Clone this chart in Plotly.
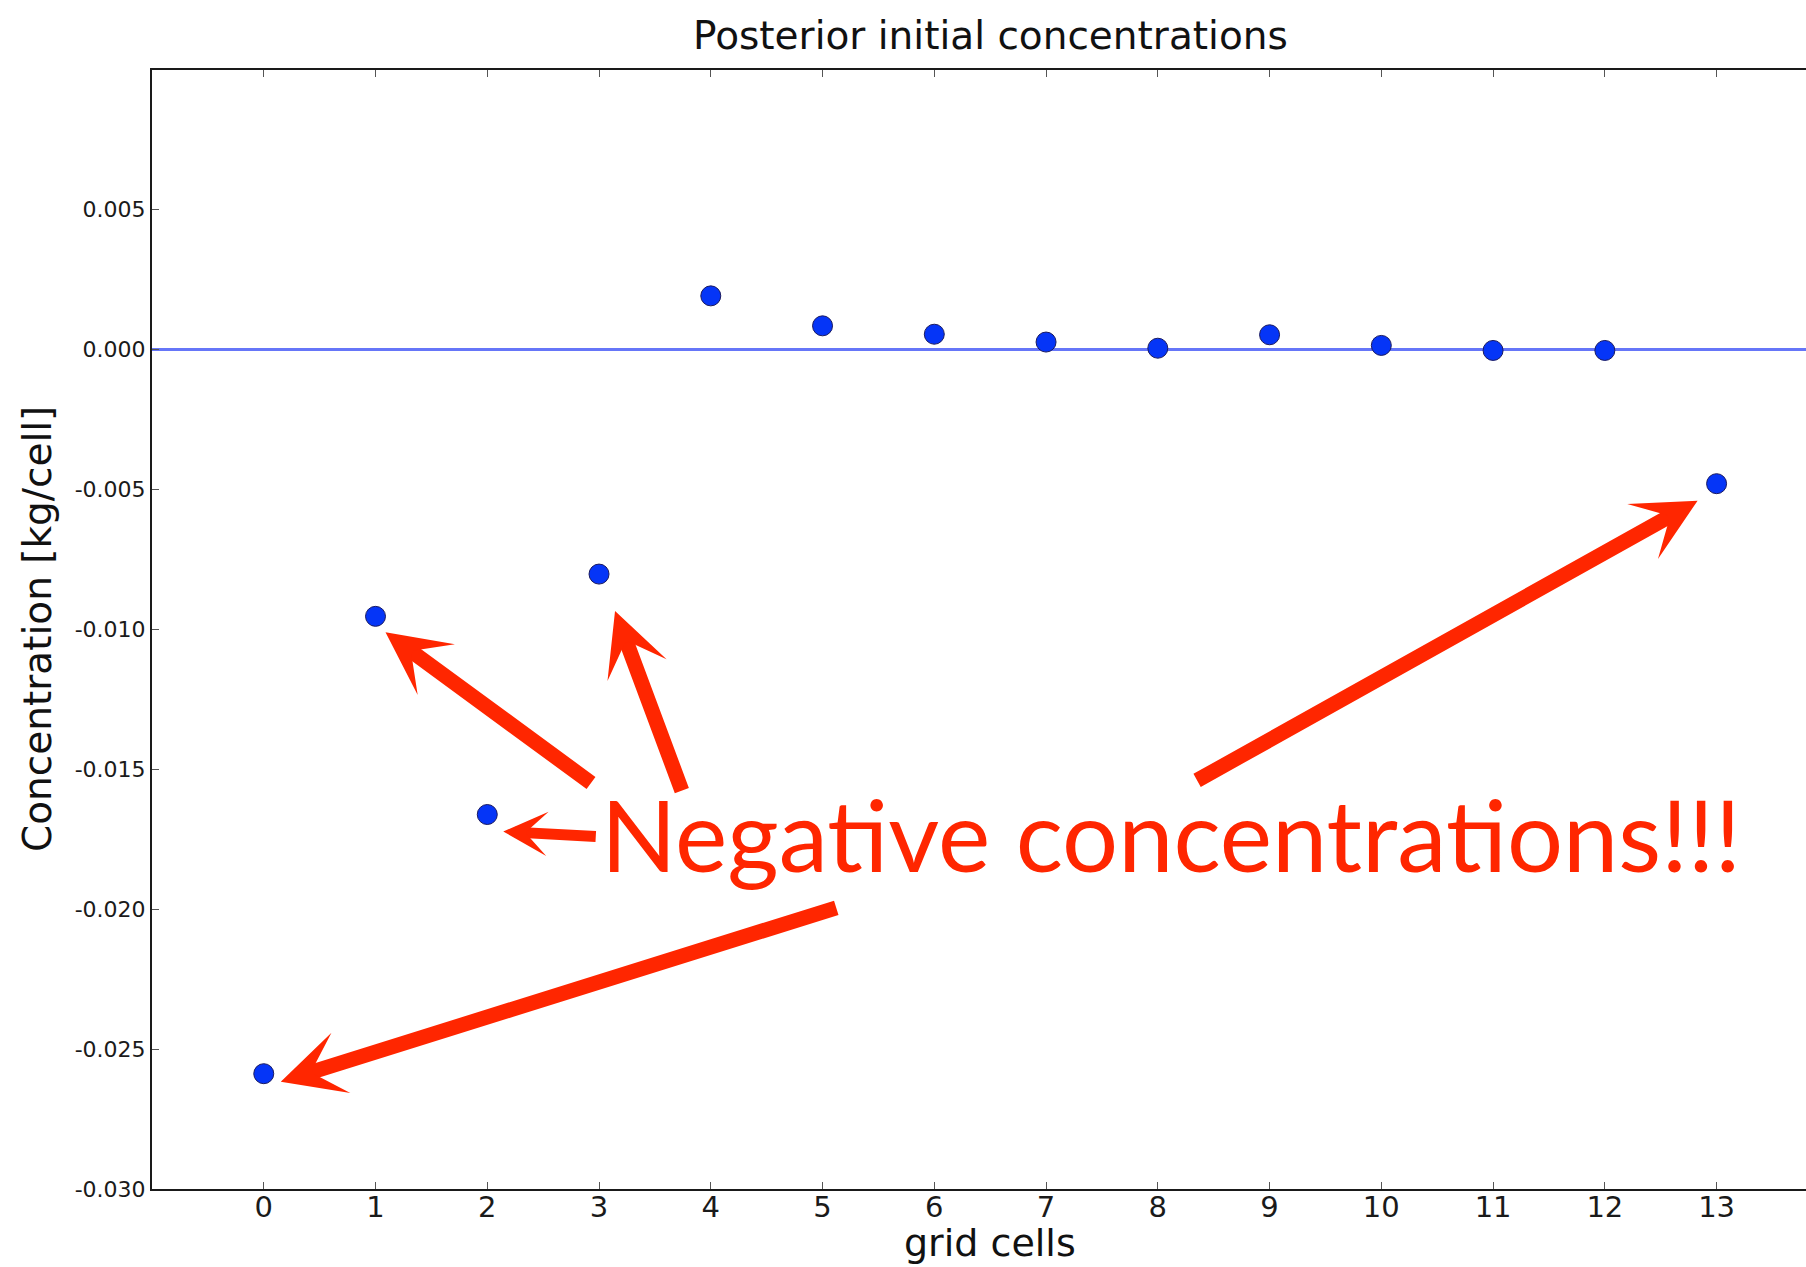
import plotly.graph_objects as go

# Posterior estimate of the initial concentration in each grid cell
cells = list(range(14))
conc = [-0.02588, -0.00954, -0.01662, -0.00803, 0.00191, 0.00084, 0.00054,
        0.00026, 0.00004, 0.00052, 0.00014, -0.00004, -0.00004, -0.00480]

y_ticks = [-0.030, -0.025, -0.020, -0.015, -0.010, -0.005, 0.000, 0.005]
y_tick_text = ["%.3f" % v for v in y_ticks]  # plain hyphen for negatives
x_ticks = cells

RED = "#ff2600"
TICK_FONT = "DejaVu Sans"

fig = go.Figure()
fig.add_trace(go.Scatter(
    x=cells, y=conc, mode="markers",
    marker=dict(size=20, color="#0535f7", line=dict(width=1, color="#1a1a60")),
    showlegend=False, hoverinfo="skip",
))

# Call-out arrows: target cell, tip shift from the marker, tail offset from the tip (px)
callouts = [
    dict(cell=0, dx=17, dy=-8, ax=556, ay=-174, w=15, s=0.70),
    dict(cell=1, dx=10, dy=-16, ax=206, ay=151, w=15, s=0.70),
    dict(cell=3, dx=16, dy=-37, ax=67, ay=180, w=15, s=0.70),
    dict(cell=2, dx=16, dy=-17, ax=93, ay=5, w=11, s=0.67),
    dict(cell=13, dx=-19, dy=-17, ax=-501, ay=280, w=15, s=0.70),
]
annotations = []
for c in callouts:
    annotations.append(dict(
        x=cells[c["cell"]], y=conc[c["cell"]], xref="x", yref="y",
        xshift=c["dx"], yshift=c["dy"], ax=c["ax"], ay=c["ay"],
        text="", showarrow=True, arrowhead=3, arrowcolor=RED,
        arrowwidth=c["w"], arrowsize=c["s"], borderpad=0,
        font=dict(size=1),
    ))

annotations += [
    dict(text="Negative concentrations!!!", xref="paper", yref="paper",
         x=0.2705, y=0.3181, xanchor="left", yanchor="middle", showarrow=False,
         font=dict(family="Lato", size=99, color=RED)),
    dict(text="Posterior initial concentrations", xref="paper", yref="paper",
         x=0.5067, y=1.0304, xanchor="center", yanchor="middle", showarrow=False,
         font=dict(family=TICK_FONT, size=39, color="#111")),
    dict(text="grid cells", xref="paper", yref="paper",
         x=0.5067, y=-0.0483, xanchor="center", yanchor="middle", showarrow=False,
         font=dict(family=TICK_FONT, size=38, color="#111")),
    dict(text="Concentration [kg/cell]", xref="paper", yref="paper",
         x=-0.0689, y=0.5005, xanchor="center", yanchor="middle", showarrow=False,
         textangle=-90, font=dict(family=TICK_FONT, size=39, color="#111")),
]

fig.update_layout(
    width=1806, height=1267,
    margin=dict(l=152, r=0, t=70, b=78),
    paper_bgcolor="white", plot_bgcolor="white",
    annotations=annotations,
    xaxis=dict(
        range=[-1, 13.8], tickvals=x_ticks, showgrid=False, zeroline=False,
        showline=True, linecolor="#1a1a1a", linewidth=2, mirror="ticks",
        ticks="inside", ticklen=7, tickwidth=1, tickcolor="#555",
        ticklabelstandoff=-9,
        tickfont=dict(family=TICK_FONT, size=29, color="#1a1a1a"),
    ),
    yaxis=dict(
        range=[-0.030, 0.00998], tickvals=y_ticks, ticktext=y_tick_text,
        showgrid=False, zeroline=True, zerolinecolor="#6676f8", zerolinewidth=2.5,
        showline=True, linecolor="#1a1a1a", linewidth=2, mirror=False,
        ticks="inside", ticklen=7, tickwidth=1, tickcolor="#555",
        tickfont=dict(family=TICK_FONT, size=22, color="#1a1a1a"),
    ),
)

fig.write_html("out.html")
